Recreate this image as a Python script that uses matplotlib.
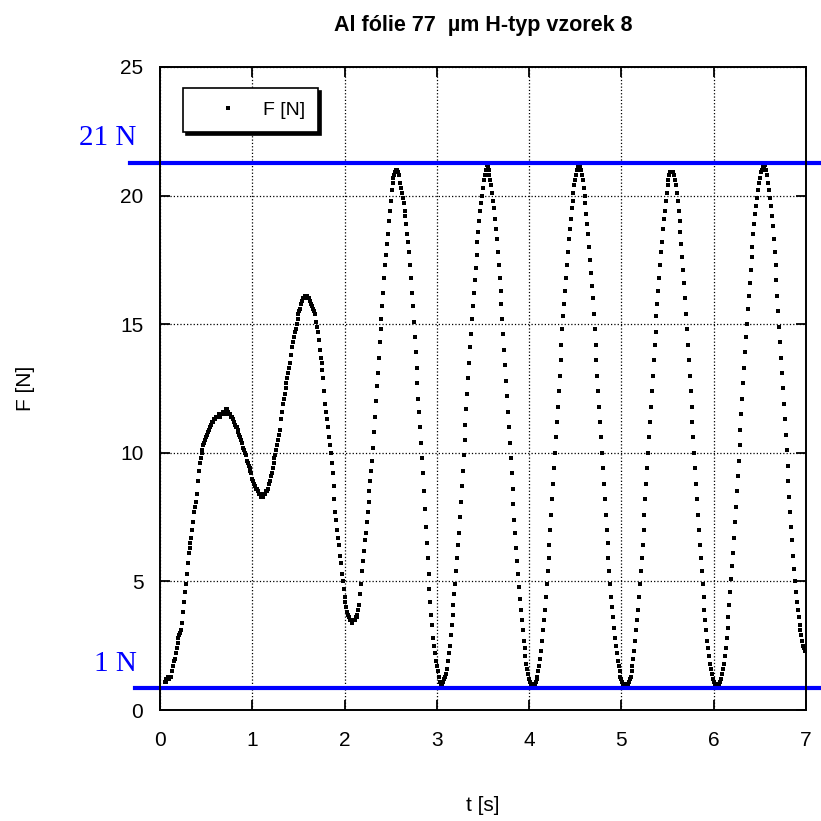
import numpy as np
import matplotlib
matplotlib.use("Agg")
import matplotlib.pyplot as plt
from matplotlib.transforms import blended_transform_factory

plt.rcParams['font.family'] = ['Liberation Sans', 'DejaVu Sans']

# sampling: first sample at 0.05 s, 100 Hz
t0 = 0.05
dt = 0.01

# F [N], one row per 0.1 s
force = [
    1.1, 1.1, 1.2, 1.2, 1.3,                                  # 0.05
    1.2, 1.3, 1.3, 1.5, 1.7, 1.9, 2.0, 2.2, 2.4, 2.6,         # 0.1
    2.8, 2.9, 3.0, 3.1, 3.4, 3.8, 4.2, 4.6, 4.9, 5.3,         # 0.2
    5.7, 6.1, 6.3, 6.5, 6.7, 7.0, 7.3, 7.7, 7.9, 8.1,         # 0.3
    8.4, 8.9, 9.3, 9.6, 9.8, 10.0, 10.1, 10.3, 10.4, 10.5,    # 0.4
    10.6, 10.7, 10.8, 10.9, 11.0, 11.1, 11.2, 11.2, 11.3, 11.3,
    11.3, 11.4, 11.4, 11.4, 11.5, 11.4, 11.5, 11.5, 11.6, 11.5,
    11.5, 11.6, 11.7, 11.7, 11.6, 11.5, 11.5, 11.4, 11.4, 11.3,
    11.2, 11.1, 11.0, 11.0, 10.9, 10.8, 10.7, 10.6, 10.5, 10.4,
    10.2, 10.1, 10.0, 9.9, 9.7, 9.6, 9.5, 9.4, 9.3, 9.2,      # 0.9
    9.0, 8.9, 8.8, 8.7, 8.6, 8.6, 8.5, 8.4, 8.4, 8.3,         # 1.0
    8.4, 8.3, 8.3, 8.4, 8.4, 8.5, 8.5, 8.6, 8.8, 8.9,
    9.1, 9.2, 9.4, 9.6, 9.8, 9.9, 10.1, 10.3, 10.5, 10.7,
    10.9, 11.3, 11.6, 11.9, 12.1, 12.3, 12.5, 12.7, 12.9, 13.1,
    13.3, 13.5, 13.8, 14.1, 14.3, 14.5, 14.7, 14.8, 15.0, 15.2,
    15.4, 15.5, 15.6, 15.8, 15.9, 16.0, 16.0, 16.1, 16.1, 16.1,
    16.0, 16.0, 15.9, 15.9, 15.8, 15.7, 15.6, 15.5, 15.4, 15.1,
    14.9, 14.7, 14.4, 14.0, 13.7, 13.5, 13.2, 12.9, 12.4, 11.9,
    11.6, 11.3, 11.0, 10.6, 10.3, 10.0, 9.6, 9.2, 8.7, 8.2,
    7.7, 7.4, 7.0, 6.7, 6.4, 6.0, 5.7, 5.3, 5.0, 4.7,         # 1.9
    4.4, 4.2, 4.0, 3.8, 3.7, 3.6, 3.5, 3.5, 3.4, 3.5,         # 2.0
    3.5, 3.5, 3.6, 3.6, 3.7, 3.9, 4.1, 4.5, 4.9, 5.4,
    5.8, 6.2, 6.6, 6.9, 7.3, 7.7, 8.1, 8.5, 8.9, 9.3,
    9.7, 10.2, 10.8, 11.4, 12.0, 12.6, 13.1, 13.7, 14.3, 14.8,
    15.2, 15.7, 16.2, 16.8, 17.3, 17.7, 18.1, 18.5, 19.0, 19.4,
    19.8, 20.2, 20.5, 20.7, 20.8, 20.9, 21.0, 21.0, 20.9, 20.8,
    20.5, 20.3, 20.1, 19.9, 19.7, 19.4, 19.2, 18.9, 18.5, 18.2,
    17.8, 17.3, 16.8, 16.2, 15.7, 15.1, 14.5, 13.9, 13.3, 12.7,
    12.1, 11.6, 11.0, 10.4, 9.8, 9.2, 8.5, 7.8, 7.1, 6.5,
    5.9, 5.3, 4.7, 4.2, 3.7, 3.3, 2.8, 2.5, 2.2, 1.9,         # 2.9
    1.7, 1.5, 1.3, 1.1, 1.0, 0.95, 1.0, 1.1, 1.2, 1.3,        # 3.0
    1.4, 1.6, 1.9, 2.2, 2.5, 2.9, 3.3, 3.7, 4.1, 4.5,
    4.9, 5.4, 5.9, 6.4, 6.9, 7.5, 8.1, 8.7, 9.3, 9.9,
    10.5, 11.1, 11.7, 12.3, 12.9, 13.5, 14.1, 14.6, 15.2, 15.7,
    16.2, 16.7, 17.2, 17.7, 18.2, 18.6, 19.0, 19.4, 19.7, 20.0,
    20.3, 20.6, 20.8, 21.0, 21.2, 21.1, 21.0, 20.8, 20.6, 20.4,
    20.1, 19.8, 19.5, 19.1, 18.7, 18.3, 17.8, 17.3, 16.8, 16.3,
    15.8, 15.2, 14.6, 14.0, 13.4, 12.8, 12.2, 11.6, 11.0, 10.4,
    9.8, 9.2, 8.6, 8.0, 7.4, 6.9, 6.3, 5.8, 5.3, 4.8,
    4.3, 3.9, 3.5, 3.1, 2.7, 2.4, 2.1, 1.8, 1.6, 1.4,         # 3.9
    1.2, 1.1, 1.0, 1.0, 0.95, 1.0, 1.0, 1.1, 1.2, 1.3,        # 4.0
    1.5, 1.7, 2.0, 2.3, 2.7, 3.1, 3.5, 3.9, 4.4, 4.9,
    5.4, 5.9, 6.4, 7.0, 7.6, 8.2, 8.8, 9.4, 10.0, 10.6,
    11.2, 11.8, 12.4, 13.0, 13.6, 14.2, 14.8, 15.3, 15.8, 16.3,
    16.8, 17.3, 17.8, 18.3, 18.7, 19.1, 19.5, 19.8, 20.1, 20.4,
    20.6, 20.8, 21.0, 21.1, 21.2, 21.1, 21.0, 20.8, 20.6, 20.3,
    20.0, 19.7, 19.3, 18.9, 18.5, 18.0, 17.5, 17.0, 16.5, 16.0,
    15.4, 14.8, 14.2, 13.6, 13.0, 12.4, 11.8, 11.2, 10.6, 10.0,
    9.4, 8.8, 8.2, 7.6, 7.0, 6.5, 5.9, 5.4, 4.9, 4.4,
    4.0, 3.6, 3.2, 2.8, 2.5, 2.2, 1.9, 1.7, 1.5, 1.3,         # 4.9
    1.2, 1.1, 1.0, 1.0, 0.95, 0.9, 0.95, 1.0, 1.1, 1.2,       # 5.0
    1.3, 1.5, 1.7, 2.0, 2.3, 2.7, 3.1, 3.5, 3.9, 4.4,
    4.9, 5.4, 5.9, 6.4, 7.0, 7.6, 8.2, 8.8, 9.4, 10.0,
    10.6, 11.2, 11.8, 12.4, 13.0, 13.6, 14.2, 14.7, 15.3, 15.8,
    16.3, 16.8, 17.3, 17.8, 18.2, 18.7, 19.1, 19.4, 19.8, 20.1,
    20.4, 20.6, 20.8, 20.9, 20.9, 20.9, 20.9, 20.8, 20.6, 20.4,
    20.1, 19.8, 19.4, 19.0, 18.6, 18.1, 17.6, 17.1, 16.6, 16.0,
    15.4, 14.8, 14.2, 13.6, 13.0, 12.4, 11.8, 11.2, 10.6, 10.0,
    9.4, 8.8, 8.2, 7.6, 7.0, 6.4, 5.9, 5.4, 4.9, 4.4,
    3.9, 3.5, 3.1, 2.7, 2.4, 2.1, 1.8, 1.6, 1.4, 1.2,         # 5.9
    1.1, 1.0, 1.0, 0.95, 0.9, 0.95, 1.0, 1.1, 1.2, 1.4,       # 6.0
    1.6, 1.8, 2.1, 2.4, 2.8, 3.2, 3.6, 4.1, 4.6, 5.1,
    5.6, 6.1, 6.7, 7.3, 7.9, 8.5, 9.1, 9.7, 10.3, 10.9,
    11.5, 12.1, 12.7, 13.3, 13.9, 14.5, 15.0, 15.6, 16.1, 16.6,
    17.1, 17.6, 18.0, 18.5, 18.9, 19.3, 19.6, 19.9, 20.2, 20.5,
    20.7, 20.9, 21.0, 21.1, 21.2, 21.1, 21.2, 21.0, 20.8, 20.5,
    20.2, 19.9, 19.6, 19.2, 18.8, 18.3, 17.8, 17.3, 16.7, 16.1,
    15.5, 14.9, 14.3, 13.7, 13.1, 12.5, 11.9, 11.3, 10.7, 10.1,
    9.5, 8.9, 8.3, 7.7, 7.1, 6.6, 6.0, 5.5, 5.0, 4.6,
    4.2, 3.9, 3.6, 3.3, 3.1, 2.9, 2.7, 2.5, 2.4, 2.3,         # 6.9
    2.3,                                                      # 7.0
]
t = t0 + dt * np.arange(len(force))

# hand-drawn limit lines and their labels
limit_levels = [21.28, 0.86]
limit_labels = ['21 N', '1 N']
limit_label_y = [21.95, 1.5]
limit_line_x0 = [-0.046, -0.039]

xticks = [0, 1, 2, 3, 4, 5, 6, 7]
yticks = [0, 5, 10, 15, 20, 25]

fig = plt.figure(figsize=(8.21, 8.21), dpi=100)
ax = fig.add_axes([0.1949, 0.1352, 0.7868, 0.7832])

ax.plot(t, force, ls='none', marker='s', ms=2.9, mew=0, color='black', label='F [N]')

ax.set_xlim(0, 7)
ax.set_ylim(0, 25)
ax.set_xticks(xticks)
ax.set_yticks(yticks)
ax.grid(True, color='black', ls=':', lw=0.9)
ax.tick_params(direction='in', length=7, width=1.3, top=True, right=True, labelsize=15)
ax.tick_params(axis='x', pad=15)
ax.tick_params(axis='y', pad=12)
for s in ax.spines.values():
    s.set_linewidth(1.4)

ax.set_title('Al fólie 77  µm H-typ vzorek 8', fontsize=15.5, fontweight='bold', pad=26)
ax.set_xlabel('t [s]', fontsize=15)
ax.xaxis.set_label_coords(0.5, -0.134)
ax.set_ylabel('F [N]', fontsize=15)
ax.yaxis.set_label_coords(-0.193, 0.5)

trans = blended_transform_factory(ax.transAxes, ax.transData)
for lvl, x0, lab, ly in zip(limit_levels, limit_line_x0, limit_labels, limit_label_y):
    ax.plot([x0, 1.03], [lvl, lvl], transform=trans, color='#0000ff', lw=3, clip_on=False)
    ax.text(-0.036, ly, lab, transform=trans, ha='right', va='baseline',
            color='#0000ff', fontsize=21, family='Liberation Serif')

leg = ax.legend(loc='upper left', bbox_to_anchor=(0.0356, 0.967), borderaxespad=0,
                fancybox=False, shadow={'color': 'black', 'alpha': 1}, edgecolor='black',
                framealpha=1, fontsize=14, handlelength=3.25, handletextpad=0.2,
                borderpad=0.67, numpoints=1)
leg.get_frame().set_linewidth(1.2)

fig.savefig('out.png', dpi=100)
